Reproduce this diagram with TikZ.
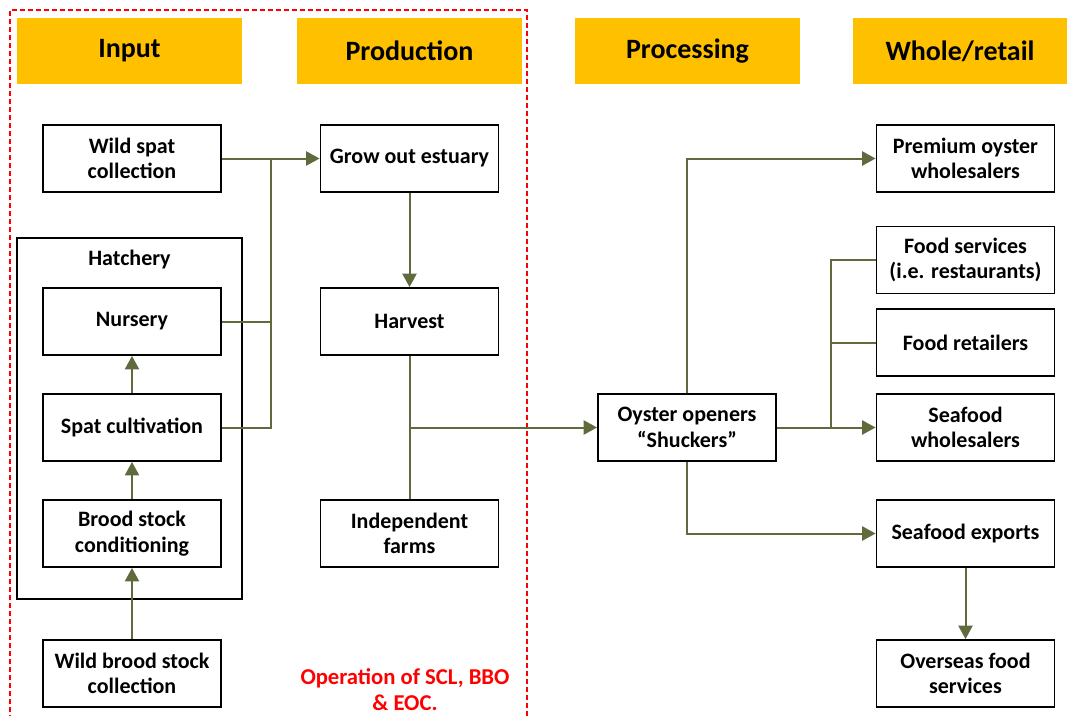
\documentclass[tikz,border=0pt]{standalone}
\usepackage{fontspec}
\setmainfont{Carlito}
\usetikzlibrary{positioning, arrows.meta}
\definecolor{HeadGold}{HTML}{FFC000}
\definecolor{FlowOlive}{HTML}{5F6B3D}
\definecolor{OpRed}{HTML}{FF0000}

\begin{document}
\begin{tikzpicture}[
    x=0.75pt, y=-0.75pt,
    box/.style={
      rectangle, draw=black, line width=1.4pt,
      minimum width=133.5pt, minimum height=50.25pt,
      align=center, inner sep=2pt,
      font=\fontsize{16.5}{19}\selectfont\bfseries
    },
    head/.style={
      rectangle, fill=HeadGold,
      minimum width=168.75pt, minimum height=49.5pt,
      font=\fontsize{21}{24}\selectfont\bfseries
    },
    flow/.style={FlowOlive, line width=1.5pt},
    flowto/.style={flow, arrows={-Triangle[length=10pt, width=10.5pt]}}
  ]
    \useasboundingbox (0,0) rectangle (1067,715);

    %% Stage headers
    \node[head] (hInput) at (129.5,51) {Input};
    \node[head] (hProd) at (409.5,51) {Production};
    \node[head] (hProc) at (687.5,51) {Processing};
    \node[head, minimum width=160.5pt] (hRetail) at (960,51) {Whole/retail};

    %% Input
    \node[box] (wildspat) at (132,158.5) {Wild spat\\collection};
    \node[draw, line width=1.4pt, minimum width=168.75pt, minimum height=270.75pt] (hatch) at (129.5,418.5) {};
    \node[font=\fontsize{16.5}{19}\selectfont\bfseries] (hatchlbl) at (129.5,260) {Hatchery};
    \node[box] (nursery) at (132,321.5) {Nursery};
    \node[box] (spat) at (132,427.5) {Spat cultivation};
    \node[box] (brood) at (132,533.5) {Brood stock\\conditioning};
    \node[box] (wildbrood) at (132,673.5) {Wild brood stock\\collection};

    %% Production
    \node[box] (growout) at (409.5,158.5) {Grow out estuary};
    \node[box] (harvest) at (409.5,321.5) {Harvest};
    \node[box] (farms) at (409.5,533.5) {Independent\\farms};

    %% Processing
    \node[box] (openers) at (687,427.5) {Oyster openers\\``Shuckers''};

    %% Whole/retail
    \node[box] (premium) at (965.5,158.5) {Premium oyster\\wholesalers};
    \node[box] (foodserv) at (965.5,260) {Food services\\(i.e. restaurants)};
    \node[box] (retailers) at (965.5,342.5) {Food retailers};
    \node[box] (seawhole) at (965.5,427.5) {Seafood\\wholesalers};
    \node[box] (exports) at (965.5,533.5) {Seafood exports};
    \node[box] (overseas) at (965.5,673.5) {Overseas food\\services};

    %% Operation frame
    \draw[OpRed, line width=1.2pt, dash pattern=on 4pt off 2pt] (10,720) -- (10,10) -- (527,10) -- (527,720);
    \node[text=OpRed, align=center, font=\fontsize{17}{19.5}\selectfont\bfseries] (opnote) at (405,690) {Operation of SCL, BBO\\\& EOC.};

    %% Junctions
    \coordinate (jIn) at (271,158.5);
    \coordinate (jOut) at (831,427.5);

    %% Draw arrows
    \draw[flowto] (wildspat.east) -- (growout.west);
    \draw[flow] (jIn) |- (spat.east);
    \draw[flow] (nursery.east) -- (nursery.east -| jIn);
    \draw[flowto] (wildbrood) -- (brood);
    \draw[flowto] (brood) -- (spat);
    \draw[flowto] (spat) -- (nursery);
    \draw[flowto] (growout) -- (harvest);
    \draw[flow] (harvest) -- (farms);
    \draw[flowto] (harvest.south |- openers.west) -- (openers.west);
    \draw[flowto] (openers.north) |- (premium.west);
    \draw[flowto] (openers.east) -- (seawhole.west);
    \draw[flow] (jOut) |- (foodserv.west);
    \draw[flow] (jOut |- retailers.west) -- (retailers.west);
    \draw[flowto] (openers.south) |- (exports.west);
    \draw[flowto] (exports) -- (overseas);
  \end{tikzpicture}
\end{document}
